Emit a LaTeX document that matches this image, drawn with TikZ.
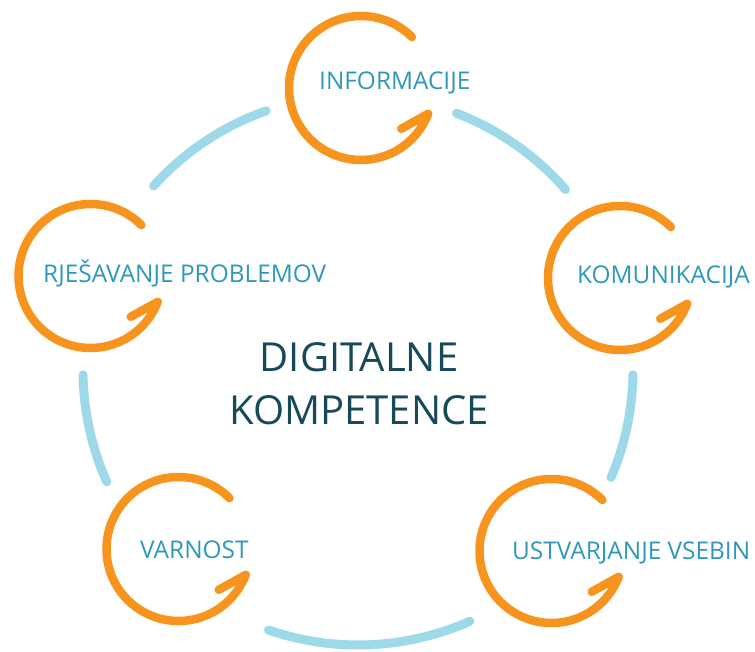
\documentclass[tikz,border=0pt]{standalone}
\usepackage{fontspec}
\setmainfont{Open Sans}
\usetikzlibrary{positioning,calc}
\definecolor{oranzna}{RGB}{247,148,30}
\definecolor{svetlomodra}{RGB}{157,217,232}
\definecolor{modra}{RGB}{47,152,186}
\definecolor{temna}{RGB}{22,74,88}

\begin{document}
\begin{tikzpicture}[
    x = 1pt, y = 1pt,
    line cap = round, % round line ends
    line join = round,
    krog/.style = {draw = oranzna, line width = 8.5pt},
    lok/.style = {draw = svetlomodra, line width = 9pt},
    oznaka/.style = {text = modra, anchor = base west, inner sep = 0pt,
        font = \fontsize{24.4}{28}\selectfont},
    naslov/.style = {text = temna, anchor = base, inner sep = 0pt,
        font = \fontsize{40}{48}\selectfont}
]
\useasboundingbox (0,0) rectangle (755,651);

% middle of the big ring
\coordinate (sredina) at (358,281);

% light blue pieces of the ring
\foreach \a/\b in {41/69, -23/-1, -109/-66, -179/-156, 109.5/138}
    \draw[lok] ($(sredina)+(\a:275)$) arc[start angle=\a, end angle=\b, radius=275];

% centres of the orange loops
\coordinate (info) at (361,563);
\coordinate (komu) at (620,373);
\coordinate (ustv) at (551.5,100);
\coordinate (varn) at (178.5,102);
\coordinate (rjes) at (90.5,375);

% orange loops with a one-sided head
\foreach \c in {info,komu,ustv,varn,rjes}
    \draw[krog] ($(\c)+(45:72)$) arc[start angle=45, end angle=339, radius=72]
        -- ++(-27,-15);

\node[oznaka] (infotxt) at ([shift={(-42,-2)}]info) {INFORMACIJE};
\node[oznaka] (komutxt) at ([shift={(-43,-6)}]komu) {KOMUNIKACIJA};
\node[oznaka] (ustvtxt) at ([shift={(-39.5,-8)}]ustv) {USTVARJANJE VSEBIN};
\node[oznaka] (varntxt) at ([shift={(-38.5,-9)}]varn) {VARNOST};
\node[oznaka] (rjestxt) at ([shift={(-47.5,-7)}]rjes) {RJEŠAVANJE PROBLEMOV};

\node[naslov] (digitalne) at (359,279) {DIGITALNE};
\node[naslov] (kompetence) at (359,226) {KOMPETENCE};

\end{tikzpicture}
\end{document}
